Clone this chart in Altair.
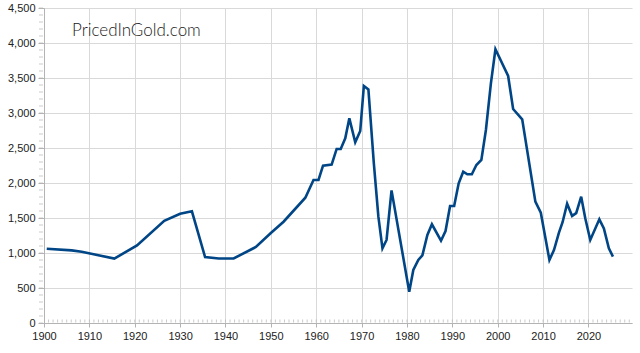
import altair as alt
import pandas as pd

years = [1900.6, 1906.1, 1908.3, 1915.5, 1920.5, 1926.5, 1930.0, 1932.6, 1935.5, 1938.5,
         1941.8, 1946.7, 1950.0, 1952.8, 1957.6, 1959.4, 1960.5, 1961.5, 1963.4, 1964.5,
         1965.4, 1966.4, 1967.3, 1968.6, 1969.7, 1970.5, 1971.5, 1972.7, 1973.7, 1974.6,
         1975.5, 1976.6, 1980.5, 1981.4, 1982.5, 1983.4, 1984.5, 1985.5, 1987.5, 1988.5,
         1989.5, 1990.4, 1991.4, 1992.4, 1993.3, 1994.3, 1995.3, 1996.4, 1997.4, 1998.5,
         1999.5, 2002.3, 2003.4, 2005.4, 2008.3, 2009.5, 2011.4, 2012.4, 2013.5, 2014.3,
         2015.3, 2016.4, 2017.3, 2018.4, 2019.3, 2020.4, 2022.4, 2023.4, 2024.5, 2025.4]
values = [1060, 1037, 1019, 920, 1108, 1460, 1560, 1595, 943, 922,
          922, 1086, 1286, 1447, 1790, 2043, 2043, 2247, 2262, 2486,
          2486, 2638, 2924, 2581, 2743, 3386, 3338, 2281, 1519, 1067,
          1186, 1895, 447, 757, 900, 967, 1257, 1410, 1176, 1314,
          1671, 1671, 1995, 2162, 2124, 2124, 2257, 2329, 2757, 3424,
          3910, 3529, 3057, 2910, 1733, 1576, 900, 1043, 1290, 1440,
          1705, 1530, 1570, 1805, 1496, 1186, 1481, 1352, 1067, 948]
x_ticks = list(range(1900, 2021, 10))
y_ticks = list(range(0, 4501, 500))
y_minor = list(range(0, 4501, 100))
x_minor = list(range(1901, 2030))
watermark = ["PricedInGold.com"]

df = pd.DataFrame({"year": years, "value": values})
minor_df = pd.DataFrame({"year": x_minor})
ymin_df = pd.DataFrame({"v": y_minor})
wm_df = pd.DataFrame({"t": watermark})

xscale = alt.Scale(domain=[1900, 2029.6], nice=False, zero=False)
yscale = alt.Scale(domain=[0, 4500], nice=False)

base_axis = dict(labelFont="Liberation Sans", labelFontSize=11, labelColor="#222222",
                 domainColor="#b3b3b3", tickColor="#b3b3b3", gridColor="#d9d9d9",
                 gridWidth=1, labelOverlap=False, labelFlush=False, labelPadding=3)
xaxis = alt.Axis(values=x_ticks, format="d", tickSize=4, **base_axis)
yaxis = alt.Axis(values=y_ticks, format=",d", tickSize=6, **base_axis)

line = alt.Chart(df).mark_line(color="#004586", strokeWidth=2.6).encode(
    x=alt.X("year:Q", scale=xscale, title=None, axis=xaxis),
    y=alt.Y("value:Q", scale=yscale, title=None, axis=yaxis),
)

yminor = alt.Chart(ymin_df).mark_tick(color="#b3b3b3", thickness=1, size=4).encode(
    y=alt.Y("v:Q", scale=yscale, title=None, axis=yaxis),
    x=alt.value(-3),
)

xminor = alt.Chart(minor_df).mark_tick(color="#b3b3b3", thickness=1, size=3, orient="vertical").encode(
    x=alt.X("year:Q", scale=xscale, title=None, axis=xaxis),
    y=alt.value(313),
)

wm = alt.Chart(wm_df).mark_text(font="Lato", fontSize=17, fontWeight=300, color="#1a1a1a",
                                 align="left", baseline="middle").encode(
    text="t:N", x=alt.value(28), y=alt.value(23))

chart = alt.layer(line, xminor, yminor, wm).properties(
    width=588, height=315,
    autosize=alt.AutoSizeParams(type="none"),
    padding={"left": 44, "top": 8, "right": 8, "bottom": 30},
).configure_view(stroke=None)

chart.save("out.html", embed_options={"renderer": "svg", "actions": False})
